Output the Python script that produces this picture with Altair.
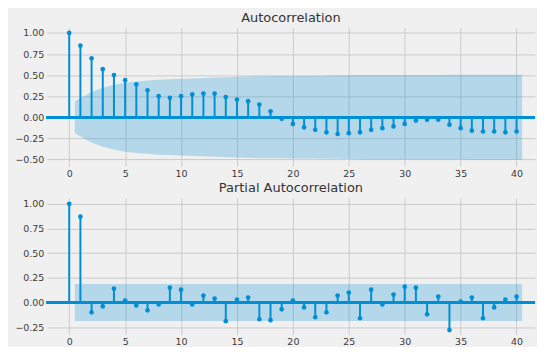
import altair as alt
import pandas as pd

lags = list(range(41))
acf_values = [1.00, 0.85, 0.70, 0.57, 0.50, 0.44, 0.39, 0.32, 0.25, 0.23,
              0.25, 0.27, 0.28, 0.28, 0.24, 0.21, 0.19, 0.15, 0.07, -0.02,
              -0.08, -0.12, -0.15, -0.18, -0.20, -0.19, -0.18, -0.15, -0.13, -0.11,
              -0.08, -0.04, -0.03, -0.03, -0.09, -0.13, -0.16, -0.17, -0.17, -0.18,
              -0.17]
pacf_values = [1.00, 0.87, -0.10, -0.04, 0.14, 0.02, -0.03, -0.08, -0.02, 0.15,
               0.13, -0.02, 0.07, 0.04, -0.19, 0.03, 0.05, -0.17, -0.18, -0.07,
               0.02, -0.05, -0.15, -0.10, 0.07, 0.10, -0.16, 0.13, -0.02, 0.08,
               0.16, 0.15, -0.12, 0.06, -0.28, 0.01, 0.05, -0.16, -0.05, 0.03,
               0.06]
band_x = [0.5] + list(range(2, 40)) + [40.5]
acf_band = [0.19, 0.30, 0.35, 0.385, 0.41, 0.425, 0.435, 0.445, 0.45, 0.455,
            0.46, 0.465, 0.47, 0.475, 0.48, 0.483, 0.486, 0.488, 0.488, 0.489,
            0.489, 0.490, 0.492, 0.494, 0.497, 0.500, 0.501, 0.502, 0.502, 0.502,
            0.502, 0.502, 0.502, 0.503, 0.503, 0.504, 0.504, 0.505, 0.505, 0.505]
pacf_band = [0.187] * 40
x_ticks = [0, 5, 10, 15, 20, 25, 30, 35, 40]
acf_yticks = [-0.5, -0.25, 0.0, 0.25, 0.5, 0.75, 1.0]
pacf_yticks = [-0.25, 0.0, 0.25, 0.5, 0.75, 1.0]

BLUE = "#008fd5"
FONT = "DejaVu Sans"
W = 490


def panel(title, values, band, ydomain, yticks, height):
    df = pd.DataFrame({"lag": lags, "value": values, "zero": [0.0] * len(lags)})
    bdf = pd.DataFrame({"x": band_x, "lo": [-b for b in band], "hi": band})
    xs = alt.Scale(domain=[-2, 41.65], nice=False, zero=False)
    ys = alt.Scale(domain=ydomain, nice=False, zero=False)
    xax = alt.Axis(values=x_ticks, title=None, grid=True, gridColor="#cbcbcb",
                   gridWidth=1, domain=False, ticks=False, labelPadding=2,
                   labelFontSize=9.5, labelFont=FONT, labelColor="#3a3a3a",
                   minExtent=10, maxExtent=10, labelFlush=False)
    yax = alt.Axis(values=yticks, title=None, grid=True, gridColor="#cbcbcb",
                   gridWidth=1, domain=False, ticks=False, labelPadding=3,
                   labelFontSize=9.5, labelFont=FONT, labelColor="#3a3a3a",
                   format=".2f", labelExpr="replace(datum.label, '-', '\u2212')",
                   minExtent=39, maxExtent=39)
    base_x = alt.X("lag:Q", scale=xs, axis=xax)
    area = alt.Chart(bdf).mark_area(color=BLUE, opacity=0.25).encode(
        x=alt.X("x:Q", scale=xs, axis=xax),
        y=alt.Y("lo:Q", scale=ys, axis=yax),
        y2="hi:Q",
    )
    stems = alt.Chart(df).mark_rule(color=BLUE, strokeWidth=2).encode(
        x=base_x,
        y=alt.Y("zero:Q", scale=ys, axis=yax),
        y2="value:Q",
    )
    zero = alt.Chart(df).mark_rule(color=BLUE, strokeWidth=2.6).encode(
        y=alt.Y("zero:Q", scale=ys, axis=yax),
    )
    pts = alt.Chart(df).mark_point(color=BLUE, filled=True, opacity=1, size=22).encode(
        x=base_x,
        y=alt.Y("value:Q", scale=ys, axis=yax),
    )
    return alt.layer(area, stems, zero, pts).properties(
        width=W, height=height,
        title=alt.TitleParams(title, fontSize=13, font=FONT, fontWeight="normal",
                              color="#333333", anchor="middle", offset=3),
    )


top = panel("Autocorrelation", acf_values, acf_band, [-0.58, 1.064], acf_yticks, 139)
bottom = panel("Partial Autocorrelation", pacf_values, pacf_band, [-0.324, 1.06], pacf_yticks, 137)

chart = alt.vconcat(top, bottom, spacing=4).properties(
    padding={"left": 0, "top": 3, "right": 0, "bottom": 0},
    background="#f0f0f0",
).configure_view(stroke=None)

chart.save("out.html", embed_options={"renderer": "svg", "actions": False})
